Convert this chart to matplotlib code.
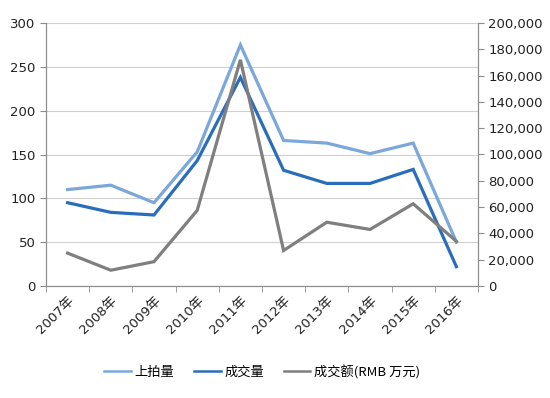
import matplotlib
matplotlib.use("Agg")
import matplotlib.pyplot as plt
from matplotlib.ticker import FuncFormatter, FixedLocator

plt.rcParams['font.family'] = ['DejaVu Sans', 'Noto Sans CJK SC']

years = ['2007年', '2008年', '2009年', '2010年', '2011年', '2012年', '2013年', '2014年', '2015年', '2016年']
listed = [110, 115, 95, 153, 275, 166, 163, 151, 163, 50]
sold = [95, 84, 81, 143, 238, 132, 117, 117, 133, 22]
turnover = [25000, 12000, 18500, 57500, 172000, 27000, 48500, 43000, 62500, 34000]

c_listed = '#7ba7da'
c_sold = '#2a6ebb'
c_turn = '#7f7f7f'
axc = '#8c8c8c'

fig = plt.figure(figsize=(5.5, 3.98), dpi=100)
ax = fig.add_axes([46/550, 1-286/398, 432/550, 263/398])
ax2 = ax.twinx()

x = list(range(len(years)))
l1, = ax.plot(x, listed, color=c_listed, lw=2.3, label='上拍量', solid_joinstyle='miter')
l2, = ax.plot(x, sold, color=c_sold, lw=2.3, label='成交量', solid_joinstyle='miter')
l3, = ax2.plot(x, turnover, color=c_turn, lw=2.3, label='成交额(RMB 万元)', solid_joinstyle='miter')

ax.set_xlim(-0.5, len(years) - 0.5)
ax.set_ylim(0, 300)
ax2.set_ylim(0, 200000)
ax.set_yticks(range(0, 301, 50))
ax2.set_yticks(range(0, 200001, 20000))
ax2.yaxis.set_major_formatter(FuncFormatter(lambda v, p: f'{int(v):,}'))

ax.set_xticks(x)
ax.set_xticklabels(years, rotation=45, ha='right', rotation_mode='anchor', fontsize=9.5)
ax.tick_params(axis='x', length=0, pad=6)
ax.xaxis.set_minor_locator(FixedLocator([i - 0.5 for i in range(len(years) + 1)]))
ax.tick_params(axis='x', which='minor', length=4, color=axc, direction='out')

ax.grid(axis='y', color='#d0d0d0', lw=0.8)
ax.set_axisbelow(True)
for a in (ax, ax2):
    a.spines['top'].set_visible(False)
    for s in ('left', 'right', 'bottom'):
        a.spines[s].set_color(axc)
    a.tick_params(axis='y', labelsize=9.5, color=axc, length=4, labelcolor='#222222')
ax.tick_params(axis='x', labelcolor='#222222')

leg = fig.legend(handles=[l1, l2, l3], loc='center', bbox_to_anchor=(0.477, 1-372/398), ncol=3,
                 frameon=False, handlelength=2.0, columnspacing=1.5, handletextpad=0.3,
                 prop={'family': ['Noto Sans CJK SC', 'DejaVu Sans'], 'size': 9.5})
for h in leg.get_lines():
    h.set_linewidth(1.8)

fig.savefig('out.png', dpi=100)
